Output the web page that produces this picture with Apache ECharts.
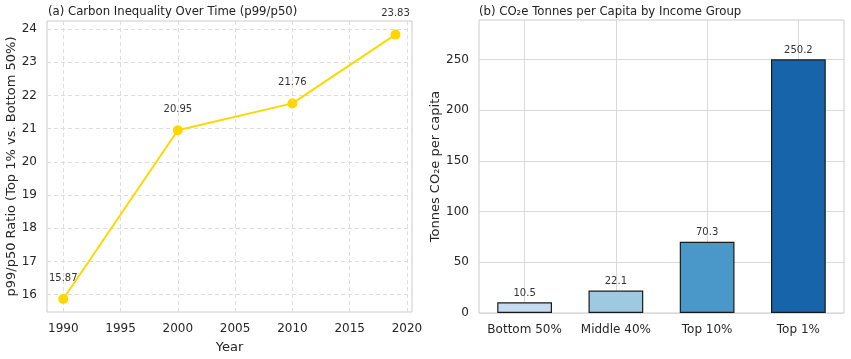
<!DOCTYPE html>
<html><head><meta charset="utf-8">
<script src="https://cdn.jsdelivr.net/npm/echarts@6/dist/echarts.min.js"></script>
<style>html,body{margin:0;padding:0;background:#fff}#c{width:851px;height:359px}</style>
</head><body><div id="c"></div>
<script>
const years = [1990, 2000, 2010, 2019];
const ratios = [15.87, 20.95, 21.76, 23.83];
const yearTicks = [1990, 1995, 2000, 2005, 2010, 2015, 2020];
const ratioTicks = [16, 17, 18, 19, 20, 21, 22, 23, 24];
const groups = ['Bottom 50%', 'Middle 40%', 'Top 10%', 'Top 1%'];
const tonnes = [10.5, 22.1, 70.3, 250.2];
const groupColors = ['#c6dbef', '#9ecae1', '#4a98c9', '#1764ab'];
const tonneTicks = [0, 50, 100, 150, 200, 250];

const chart = echarts.init(document.getElementById('c'));
const F = 'DejaVu Sans';
const tickText = {color: '#262626', fontSize: 12, fontFamily: F};
const nameText = {fontSize: 13, color: '#262626', fontFamily: F};
const titleText = {fontSize: 11.7, fontWeight: 'normal', color: '#222', fontFamily: F};
chart.setOption({
  animation: false,
  textStyle: {fontFamily: F},
  title: [
    {text: '(a) Carbon Inequality Over Time (p99/p50)', left: 48, top: 6, padding: 0, textStyle: titleText},
    {text: '(b) CO₂e Tonnes per Capita by Income Group', left: 479, top: 6, padding: 0, textStyle: titleText}
  ],
  grid: [
    {left: 47, top: 21, width: 365, height: 292, show: true, borderColor: '#cccccc', borderWidth: 1},
    {left: 479, top: 20, width: 365, height: 293, show: true, borderColor: '#cccccc', borderWidth: 1}
  ],
  xAxis: [
    {gridIndex: 0, type: 'value', min: 1988.58, max: 2020.44, name: 'Year', nameLocation: 'middle', nameGap: 29,
     nameTextStyle: nameText,
     axisLine: {show: false}, axisTick: {show: false, customValues: yearTicks},
     axisLabel: Object.assign({customValues: yearTicks, margin: 11, formatter: v => String(v)}, tickText),
     splitLine: {show: true, lineStyle: {color: '#dddddd', type: [4, 3], width: 1}}},
    {gridIndex: 1, type: 'category', data: groups,
     axisLine: {show: false}, axisTick: {show: false},
     axisLabel: Object.assign({margin: 11, interval: 0}, tickText), splitLine: {show: false}},
    {gridIndex: 1, type: 'value', min: -0.5, max: 3.5, show: true,
     axisLine: {show: false}, axisTick: {show: false, customValues: [0, 1, 2, 3]},
     axisLabel: {show: false, customValues: [0, 1, 2, 3]},
     splitLine: {show: true, lineStyle: {color: '#d9d9d9', width: 1}}}
  ],
  yAxis: [
    {gridIndex: 0, type: 'value', min: 15.48, max: 24.24,
     name: 'p99/p50 Ratio (Top 1% vs. Bottom 50%)', nameLocation: 'middle', nameGap: 22,
     nameTextStyle: nameText,
     axisLine: {show: false}, axisTick: {show: false, customValues: ratioTicks},
     axisLabel: Object.assign({customValues: ratioTicks, margin: 10}, tickText),
     splitLine: {show: true, lineStyle: {color: '#dddddd', type: [4, 3], width: 1}}},
    {gridIndex: 1, type: 'value', min: 0, max: 289, interval: 50,
     name: 'Tonnes CO₂e per capita', nameLocation: 'middle', nameGap: 32,
     nameTextStyle: nameText,
     axisLine: {show: false}, axisTick: {show: false, customValues: tonneTicks},
     axisLabel: Object.assign({margin: 10, customValues: tonneTicks}, tickText),
     splitLine: {show: true, lineStyle: {color: '#d9d9d9', width: 1}}}
  ],
  series: [
    {type: 'line', xAxisIndex: 0, yAxisIndex: 0,
     data: years.map((y, i) => [y, ratios[i]]),
     lineStyle: {color: '#FFD700', width: 2}, itemStyle: {color: '#FFD700'},
     symbol: 'circle', symbolSize: 10,
     label: {show: true, position: 'top', distance: 11, fontSize: 10, color: '#333', fontFamily: F,
       formatter: p => p.value[1].toFixed(2)}},
    {type: 'bar', xAxisIndex: 1, yAxisIndex: 1, barWidth: '60%',
     data: tonnes.map((v, i) => ({value: v, itemStyle: {color: groupColors[i], borderColor: '#1a1a1a', borderWidth: 1.2}})),
     label: {show: true, position: 'top', distance: 4, fontSize: 10, color: '#333', fontFamily: F,
       formatter: p => p.value.toFixed(1)}}
  ]
});
</script></body></html>
